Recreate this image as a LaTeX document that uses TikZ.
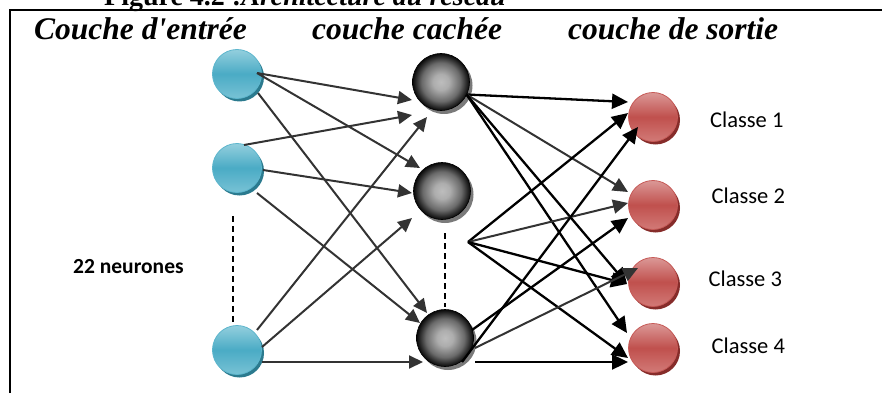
\documentclass[tikz,border=0pt]{standalone}
\usepackage{fontspec}
\setmainfont{Liberation Serif}
\newfontfamily\titlefont{Liberation Serif}
\newfontfamily\calibri{Carlito}
\usetikzlibrary{arrows.meta,calc,shadows}
\definecolor{bluetop}{HTML}{93CFDE}
\definecolor{bluemid}{HTML}{4AABC5}
\definecolor{bluebot}{HTML}{78C2D5}
\definecolor{bluerim}{HTML}{5DB6CD}
\definecolor{blueshadow}{HTML}{2B7A8E}
\definecolor{redtop}{HTML}{DB9896}
\definecolor{redmid}{HTML}{C0504D}
\definecolor{redbot}{HTML}{D27A77}
\definecolor{redrim}{HTML}{C65A57}
\definecolor{redshadow}{HTML}{862C2A}
\definecolor{grayshadow}{HTML}{7A7A7A}
\definecolor{edgegray}{HTML}{333333}
\definecolor{hg0}{HTML}{BDBDBD}
\definecolor{hg1}{HTML}{ADADAD}
\definecolor{hg2}{HTML}{6A6A6A}
\definecolor{hg3}{HTML}{262626}
\definecolor{hg4}{HTML}{080808}
\pgfdeclareradialshading{hidball}{\pgfpoint{0bp}{0bp}}{color(0bp)=(hg0); color(7bp)=(hg1); color(17bp)=(hg2); color(22.5bp)=(hg3); color(25bp)=(hg4); color(50bp)=(hg4)}
\begin{document}
\begin{tikzpicture}[x=1pt,y=-1pt,
  inneuron/.style={circle,minimum size=49pt,inner sep=0pt,draw=bluerim,line width=0.8pt,
    top color=bluetop,bottom color=bluebot,middle color=bluemid,
    drop shadow={shadow xshift=2.5pt,shadow yshift=-3pt,fill=blueshadow,opacity=1}},
  hidneuron/.style={circle,minimum size=57pt,inner sep=0pt,draw=black,line width=0.6pt,
    shading=hidball,
    drop shadow={shadow xshift=3pt,shadow yshift=-3.5pt,fill=grayshadow,opacity=1}},
  outneuron/.style={circle,minimum size=49pt,inner sep=0pt,draw=redrim,line width=0.8pt,
    top color=redtop,bottom color=redbot,middle color=redmid,
    drop shadow={shadow xshift=2.5pt,shadow yshift=-3pt,fill=redshadow,opacity=1}},
  inarr/.style={draw=edgegray,line width=2pt,-{Triangle[length=14pt,width=13pt]}},
  outarr/.style={draw=black,line width=2.3pt,-{Triangle[length=16pt,width=15pt]}},
  outgray/.style={draw=edgegray,line width=2pt,-{Triangle[length=15pt,width=14pt]}},
  dots/.style={draw=black,line width=1.3pt,dash pattern=on 6pt off 4pt},
  title/.style={anchor=base west,inner sep=0pt,font=\titlefont\fontsize{31.5}{36}\selectfont\bfseries\itshape},
  classlabel/.style={anchor=base west,inner sep=0pt,font=\calibri\fontsize{22.5}{26}\selectfont},
  frameline/.style={draw=black,line width=2pt}
]
\useasboundingbox (0,0) rectangle (882,393);

% caption (cut by the page edge, as in the reference)
\node[anchor=base west,inner sep=0pt,font=\fontsize{28}{32}\selectfont\bfseries] (cap) at (104,6)
  {Figure 4.2 :\textit{Architecture du réseau}};

% frame
\coordinate (fa) at (9.5,393);
\coordinate (fb) at (9.5,10.5);
\coordinate (fc) at (882,10.5);
\draw[frameline] (fa) -- (fb) -- (fc);

% titles
\node[title] (t1) at (34,40) {Couche d'entrée};
\node[title] (t2) at (312,40) {couche cachée};
\node[title] (t3) at (568,40) {couche de sortie};

% neurons
\node[inneuron] (b1) at (237,74) {};
\node[inneuron] (b2) at (237,168) {};
\node[inneuron] (b3) at (237,350) {};
\node[hidneuron] (h1) at (441,82) {};
\node[hidneuron] (h2) at (442,191) {};
\node[hidneuron] (h3) at (445,338) {};
\node[outneuron] (o1) at (653,117) {};
\node[outneuron] (o2) at (653,205) {};
\node[outneuron] (o3) at (653,282) {};
\node[outneuron] (o4) at (653,348) {};
\coordinate (fan) at (468,242);

% dotted continuation
\draw[dots] ($(b2)+(-4,48)$) -- ($(b3)+(-4,-28)$);
\draw[dots] ($(h2)+(3,42)$) -- ($(h3)+(0,-31)$);

% labels
\node[anchor=base west,inner sep=0pt,font=\calibri\fontsize{21.5}{25}\selectfont\bfseries] (n22) at (73,273) {22 neurones};
\node[classlabel] (c1) at (710,127) {Classe 1};
\node[classlabel] (c2) at (711.5,203.5) {Classe 2};
\node[classlabel] (c3) at (708.5,286) {Classe 3};
\node[classlabel] (c4) at (711.5,353) {Classe 4};

% input -> hidden
\draw[inarr] ($(b1)+(20,-1)$) -- ($(h1)+(-29,18)$);
\draw[inarr] ($(b1)+(20,-1)$) -- ($(h2)+(-22,-23)$);
\draw[inarr] ($(b1)+(21,19)$) -- ($(h3)+(-18,-25)$);
\draw[inarr] ($(b2)+(7,-23)$) -- ($(h1)+(-29,33)$);
\draw[inarr] ($(b2)+(26,2)$) -- ($(h2)+(-30,2)$);
\draw[inarr] ($(b2)+(20,25)$) -- ($(h3)+(-25,-15)$);
\draw[inarr] ($(b3)+(20,-20)$) -- ($(h1)+(-14,35)$);
\draw[inarr] ($(b3)+(25,-3)$) -- ($(h2)+(-30,27)$);
\draw[inarr] ($(b3)+(25,12)$) -- ($(h3)+(-22,24)$);

% hidden -> output
\draw[outarr] ($(h1)+(25.5,12.5)$) -- ($(o1)+(-25,-15)$);
\draw[outgray] ($(h1)+(25.5,12.5)$) -- ($(o2)+(-25,-13)$);
\draw[outarr] ($(h1)+(25.5,12.5)$) -- ($(o3)+(-26,2)$);
\draw[outarr] ($(h1)+(25.5,12.5)$) -- ($(o4)+(-26,-15)$);

\draw[outarr] (fan) -- ($(o1)+(-25,-4)$);
\draw[outgray] (fan) -- ($(o2)+(-25,-2)$);
\draw[outarr] (fan) -- ($(o3)+(-26,2)$);
\draw[outarr] (fan) -- ($(o4)+(-25,10)$);

\draw[outarr] ($(h3)+(17,24)$) -- ($(o1)+(-15,10)$);
\draw[outarr] ($(h3)+(27,-8)$) -- ($(o2)+(-25,13)$);
\draw[outgray] ($(h3)+(30,10)$) -- ($(o3)+(-15,-14)$);
\draw[outarr] ($(h3)+(30,24)$) -- ($(o4)+(-25,14)$);
\end{tikzpicture}
\end{document}
